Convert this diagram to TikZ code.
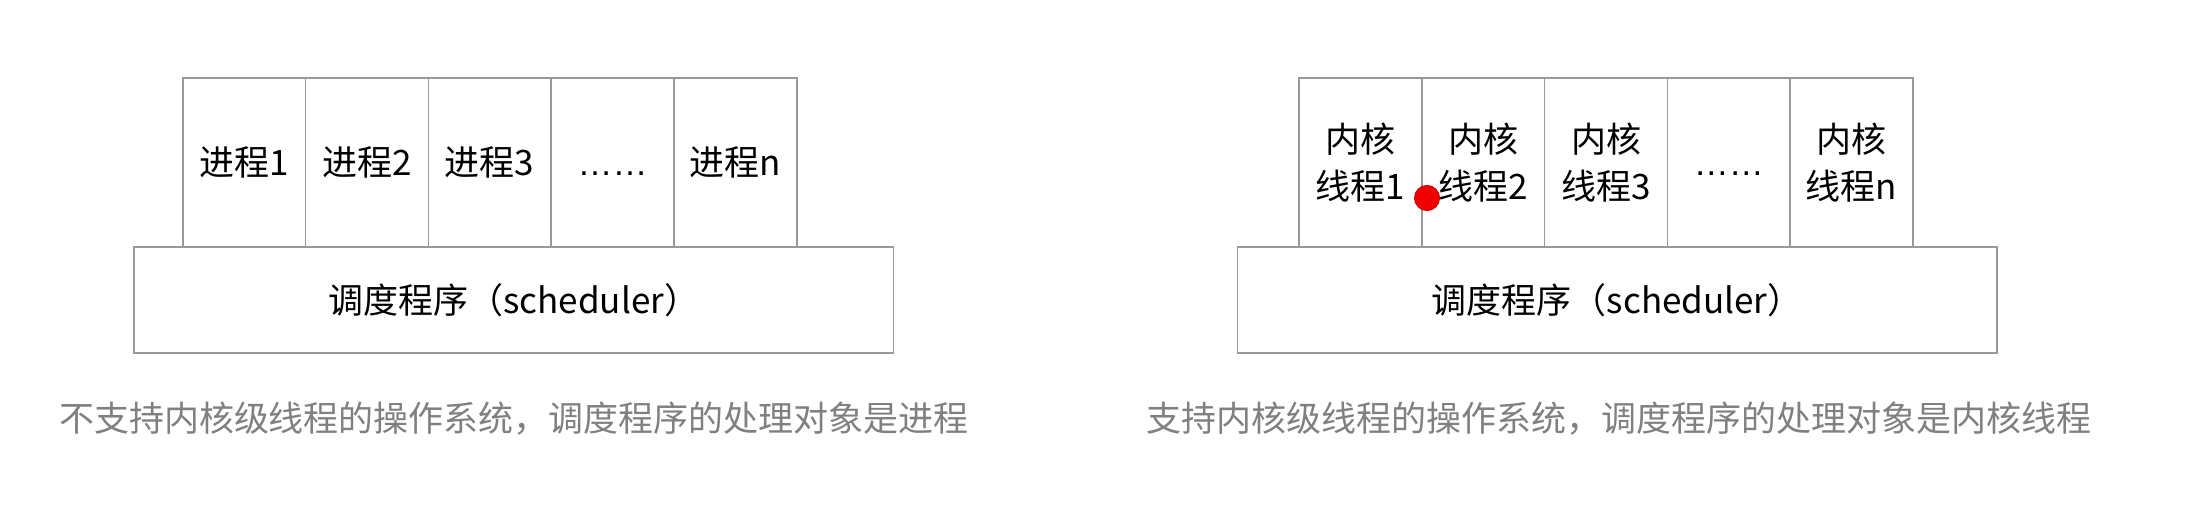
\documentclass[tikz,border=0pt]{standalone}
\usepackage{fontspec}
\setmainfont{Noto Sans CJK SC}
\newfontfamily\dotsfont{Liberation Sans}
\definecolor{linegray}{HTML}{999999}
\definecolor{capgray}{HTML}{808080}
\definecolor{dotred}{HTML}{F00000}
\definecolor{dotedge}{HTML}{C80000}
\begin{document}
\begin{tikzpicture}[x=1pt,y=-1pt,
  cellbox/.style={draw=linegray, line width=1.6pt, fill=white, inner sep=0pt, outer sep=0pt,
    minimum width=122.8pt, minimum height=168.4pt, align=center,
    font=\fontsize{35}{47}\selectfont},
  schedbox/.style={draw=linegray, line width=1.6pt, fill=white, inner sep=0pt, outer sep=0pt,
    minimum width=759.3pt, minimum height=105.4pt, font=\fontsize{35}{42}\selectfont},
  captext/.style={text=capgray, inner sep=0pt, font=\fontsize{35}{42}\selectfont},
  reddot/.style={circle, fill=dotred, draw=dotedge, line width=1pt, minimum size=25pt, inner sep=0pt}]
\useasboundingbox (0,0) rectangle (2190,521);
\fill[white] (0,0) rectangle (2190,521);

% left diagram
\node[cellbox] (p1) at (244.1,162.5) {进程1};
\node[cellbox] (p2) at (366.9,162.5) {进程2};
\node[cellbox] (p3) at (489.7,162.5) {进程3};
\node[cellbox] (p4) at (612.5,162.5) {\vphantom{进}{\dotsfont ……}};
\node[cellbox] (p5) at (735.3,162.5) {进程n};
\node[schedbox] (s1) at (513.7,300) {调度程序（scheduler）};
\node[captext] (c1) at (514,419) {不支持内核级线程的操作系统，调度程序的处理对象是进程};

% right diagram
\node[cellbox] (k1) at (1360.4,162.5) {内核\\线程1};
\node[cellbox] (k2) at (1483.2,162.5) {内核\\线程2};
\node[cellbox] (k3) at (1606.0,162.5) {内核\\线程3};
\node[cellbox] (k4) at (1728.8,162.5) {\vphantom{进}{\dotsfont ……}};
\node[cellbox] (k5) at (1851.6,162.5) {内核\\线程n};
\node[schedbox] (s2) at (1617.2,300) {调度程序（scheduler）};
\node[captext] (c2) at (1619,419) {支持内核级线程的操作系统，调度程序的处理对象是内核线程};

\node[reddot] (dot) at (1427,198) {};
\end{tikzpicture}
\end{document}
